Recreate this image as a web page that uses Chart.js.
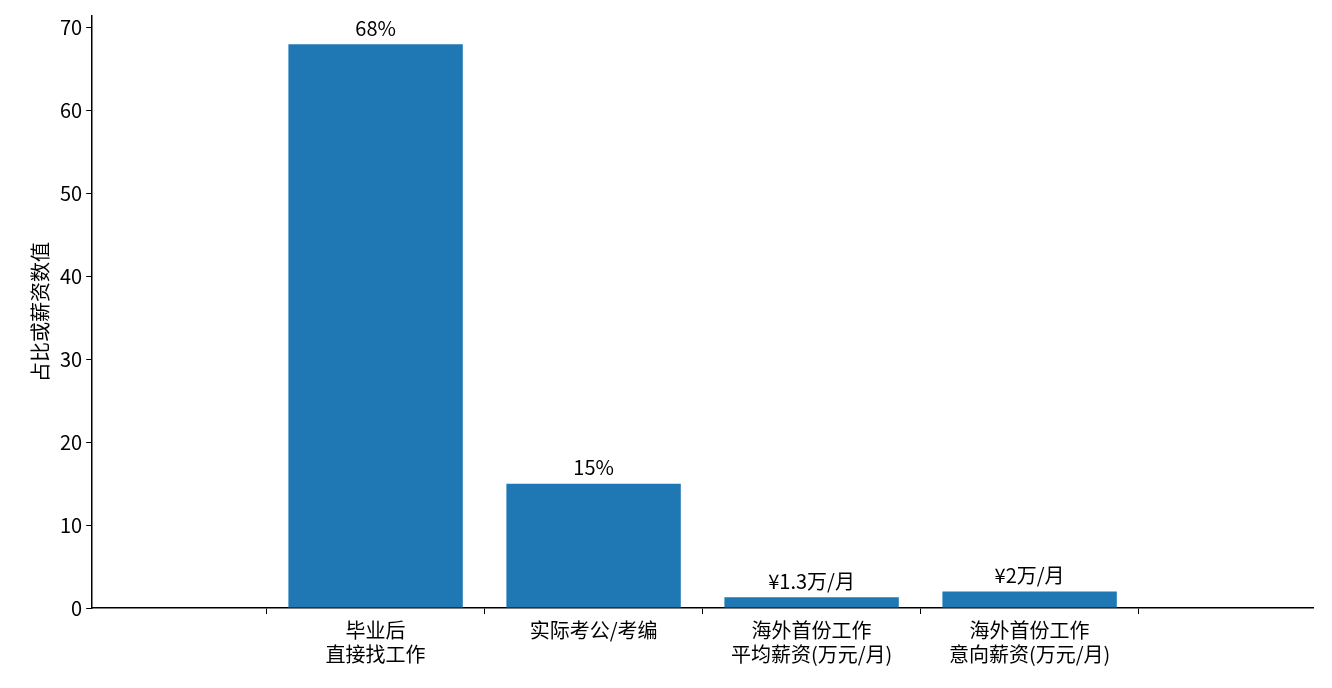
<!DOCTYPE html>
<html><head><meta charset="utf-8">
<script src="https://cdn.jsdelivr.net/npm/chart.js@4"></script>
<style>html,body{margin:0;background:#fff}#w{width:1332px;height:688px}</style>
</head><body><div id="w"><canvas id="c"></canvas></div>
<script>
const categories=[["毕业后","直接找工作"],"实际考公/考编",["海外首份工作","平均薪资(万元/月)"],["海外首份工作","意向薪资(万元/月)"]];
const values=[68,15,1.3,2];
const valueLabels=["68%","15%","¥1.3万/月","¥2万/月"];
const yTicks=[0,10,20,30,40,50,60,70];
const F="'Noto Sans CJK SC','Noto Sans',sans-serif";
const lbl={id:'lbl',afterDatasetsDraw(ch){const c=ch.ctx;const m=ch.getDatasetMeta(0);c.save();c.font="20px "+F;c.fillStyle="#000";c.textAlign="center";c.textBaseline="bottom";
m.data.forEach((b,i)=>c.fillText(valueLabels[i],b.x,b.y-6));c.restore();}};
new Chart(document.getElementById('c'),{type:'bar',
data:{datasets:[{data:values.map((v,i)=>({x:i,y:v})),backgroundColor:'#1f77b4',barPercentage:0.8,categoryPercentage:1}]},
options:{responsive:true,maintainAspectRatio:false,animation:false,
layout:{padding:{top:0,right:19,left:24,bottom:18}},
plugins:{legend:{display:false},tooltip:{enabled:false}},
scales:{x:{type:'linear',min:-0.6,max:3.6,afterBuildTicks(a){a.ticks=categories.map((_,i)=>({value:i}));},
grid:{display:true,drawOnChartArea:false,tickLength:6,color:'#000'},border:{color:'#000',width:1.5},
ticks:{color:'#000',font:{family:F,size:20},padding:4,autoSkip:false,maxRotation:0,callback:(v)=>categories[v]}},
y:{min:0,max:71.4,afterBuildTicks(a){a.ticks=yTicks.map(v=>({value:v}));},
grid:{display:true,drawOnChartArea:false,tickLength:6,color:'#000'},border:{color:'#000',width:1.5},
ticks:{color:'#000',font:{family:F,size:20},padding:4},
title:{display:true,text:'占比或薪资数值',color:'#000',font:{family:F,size:20}}}}},
plugins:[lbl]});
</script></body></html>
